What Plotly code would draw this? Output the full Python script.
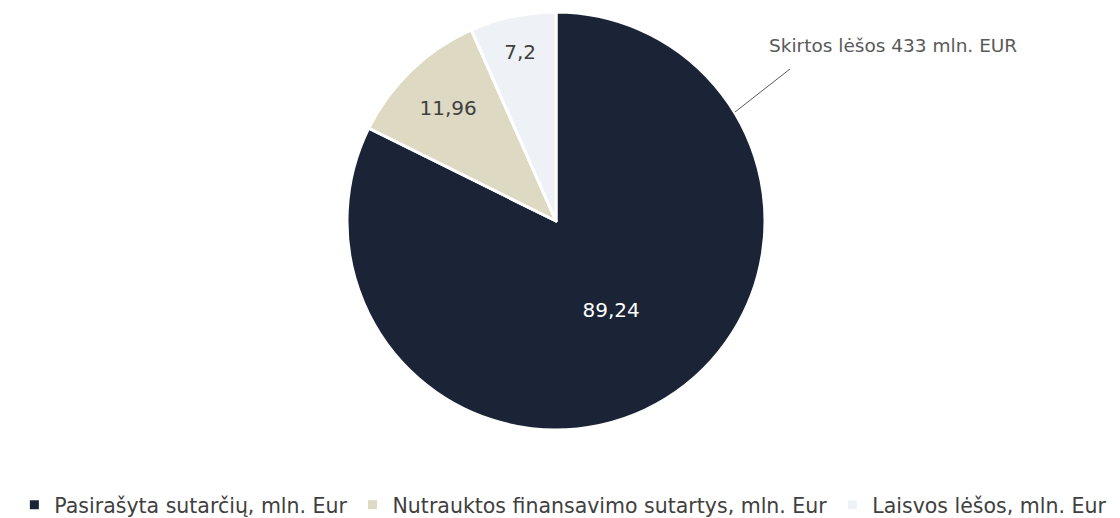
import plotly.graph_objects as go

labels = ["Pasirašyta sutarčių, mln. Eur", "Nutrauktos finansavimo sutartys, mln. Eur", "Laisvos lėšos, mln. Eur"]
values = [89.24, 11.96, 7.2]
colors = ["#1b2437", "#ddd9c3", "#eef1f6"]
text_colors = ["#ffffff", "#404040", "#404040"]
callout_text = "Skirtos lėšos 433 mln. EUR"
FONT = "DejaVu Sans"

W, H = 1120, 518
cx, cy, r = 556, 221, 209

fig = go.Figure()
fig.add_trace(go.Pie(
    labels=labels,
    values=values,
    sort=False,
    direction="clockwise",
    rotation=0,
    marker=dict(colors=colors, line=dict(color="white", width=3)),
    textinfo="value",
    textposition="inside",
    insidetextorientation="horizontal",
    textfont=dict(size=20, color=text_colors, family=FONT),
    domain=dict(x=[(cx - r) / W, (cx + r) / W], y=[1 - (cy + r) / H, 1 - (cy - r) / H]),
    hoverinfo="label+value",
))

fig.add_shape(type="line", xref="paper", yref="paper",
              x0=735/W, y0=1-112/H, x1=790/W, y1=1-69/H,
              line=dict(color="#595959", width=1))
fig.add_annotation(text=callout_text, xref="paper", yref="paper",
                   x=893/W, y=1-45/H, xanchor="center", yanchor="middle",
                   showarrow=False,
                   font=dict(size=18.5, color="#595959", family=FONT))

fig.update_layout(
    width=W, height=H,
    margin=dict(l=0, r=0, t=0, b=0, autoexpand=False),
    paper_bgcolor="white", plot_bgcolor="white",
    separators=", ",
    showlegend=True,
    legend=dict(orientation="h", x=0.503, xanchor="center", y=1-505/H, yanchor="middle",
                font=dict(size=20.5, color="#404040", family=FONT),
                itemwidth=30),
)
fig.write_html("out.html", config={"displayModeBar": False},
               post_script="document.body.style.margin='0px';")
